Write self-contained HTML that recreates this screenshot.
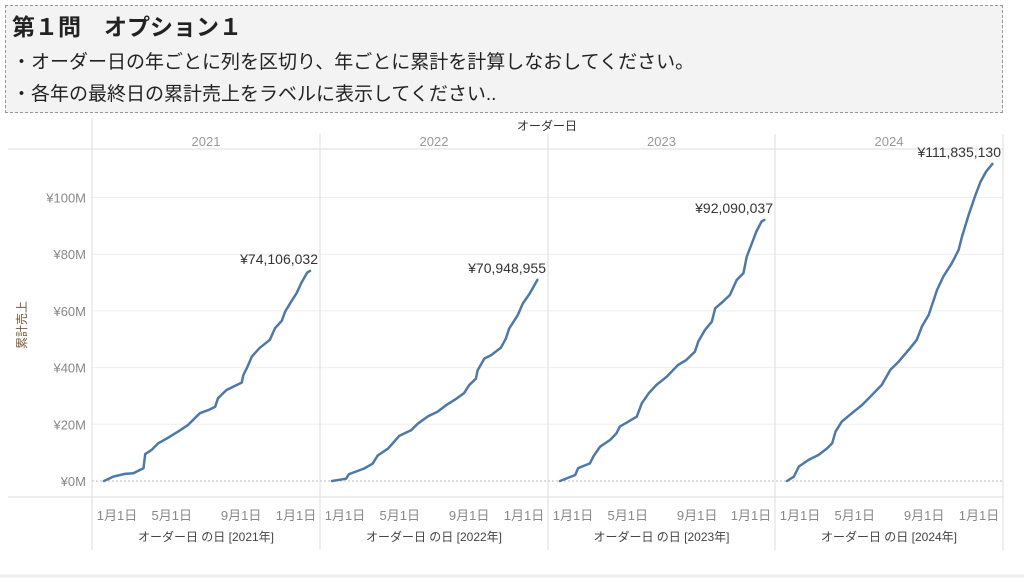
<!DOCTYPE html>
<html><head><meta charset="utf-8"><style>
html,body{margin:0;padding:0;background:#fff;width:1024px;height:580px;overflow:hidden}
body{font-family:"Liberation Sans","Noto Sans CJK JP",sans-serif}
#hdr{position:absolute;left:5px;top:5px;width:996px;height:106px;background:#f3f3f3;border:1px dashed #999}
#hdr div{position:absolute;left:6px;white-space:nowrap;color:#222}
</style></head><body>
<div id="hdr">
<div style="top:2px;font-size:23px;font-weight:bold;">第１問　オプション１</div>
<div style="top:41px;font-size:19px;">・オーダー日の年ごとに列を区切り、年ごとに累計を計算しなおしてください。</div>
<div style="top:73px;font-size:19px;">・各年の最終日の累計売上をラベルに表示してください..</div>
</div>
<svg id="chart" width="1024" height="580" style="position:absolute;left:0;top:0" font-family="Liberation Sans, Noto Sans CJK JP, sans-serif"></svg>
<script>
const years=["2021","2022","2023","2024"];
const labels2021=["¥74,106,032"];
const finalLabels=["¥74,106,032","¥70,948,955","¥92,090,037","¥111,835,130"];
const yTicks=[0,20,40,60,80,100];
const yTickLabels=["¥0M","¥20M","¥40M","¥60M","¥80M","¥100M"];
const xTickDays=[0,120,243,365];
const xTickLabels=["1月1日","5月1日","9月1日","1月1日"];
const days2021=[0,16,37,52,70,73,84,96,114,131,149,170,185,197,202,217,244,247,253,262,276,294,303,315,321,330,341,350,360,365];
const vals2021=[0,1.5,2.5,2.7,4.5,9.5,10.9,13.3,15.3,17.4,19.8,23.9,25,26.2,29.2,32.1,34.7,37.4,39.8,43.9,47,49.8,53.9,56.5,59.8,62.7,66.2,70,73.5,74.1];
const days2022=[0,25,30,57,72,81,99,108,119,140,152,170,187,202,220,234,243,255,258,270,282,299,308,314,329,338,350,364];
const vals2022=[0,0.8,2.4,4.4,6.1,9,11.4,13.4,15.9,17.9,20.2,22.8,24.4,26.7,29,31,33.8,36.1,39,43.2,44.4,47,50.2,53.8,58.5,62.6,66,70.95];
const days2023=[0,27,32,53,59,71,89,100,106,121,136,145,157,171,189,209,224,239,245,257,269,275,289,301,313,325,331,339,348,357,362];
const vals2023=[0,2.1,4.5,6.2,8.6,12.1,14.5,16.8,19.2,20.9,22.7,27.4,30.9,33.9,36.8,40.9,42.7,45.6,49.2,53.3,56.2,60.9,63.3,65.6,70.9,73.3,79.2,83.3,88,91.5,92.09];
const days2024=[0,12,21,38,56,71,80,86,97,115,133,151,168,183,198,218,230,239,251,266,277,292,304,310,322,334,343,353,364];
const vals2024=[0,1.5,5.1,7.4,9.2,11.5,13.3,17.4,20.9,23.9,26.8,30.4,33.9,39.2,42.1,46.8,49.8,54.5,58.6,67.4,72.1,76.8,81.5,86.2,93.9,100.9,105.6,109.2,111.84];
const allDays=[days2021,days2022,days2023,days2024];
const allVals=[vals2021,vals2022,vals2023,vals2024];

const svg=document.getElementById('chart');
const NS="http://www.w3.org/2000/svg";
const panelX=[92,320,548,775,1003];
const y0=481, pxPerM=2.835;
function yScale(v){return y0-v*pxPerM;}
function xScale(p,d){return panelX[p]+12+d/365*206;}
function mk(tag,attrs,text){const e=document.createElementNS(NS,tag);for(const k in attrs)e.setAttribute(k,attrs[k]);if(text!==undefined)e.textContent=text;svg.appendChild(e);return e;}

// gridlines
yTicks.forEach((t,i)=>{
 const g=mk('line',{x1:92,x2:1003,y1:yScale(t),y2:yScale(t),stroke:i===0?'#bbb':'#eee','stroke-width':1,'stroke-dasharray':i===0?'2,2':'none'});
 
 
 const l=mk('text',{x:86,y:yScale(t)+5,'text-anchor':'end','font-size':13,fill:'#888'},yTickLabels[i]);
 
 
});
// frame lines
let e;
e=mk('line',{x1:8,x2:1003,y1:149,y2:149,stroke:'#ddd'});


e=mk('line',{x1:8,x2:1003,y1:497,y2:497,stroke:'#ddd'});


e=mk('line',{x1:92,x2:92,y1:118,y2:550,stroke:'#ddd'});


for(let p=1;p<5;p++){
 e=mk('line',{x1:panelX[p],x2:panelX[p],y1:134,y2:550,stroke:'#ddd'});
 
 
}
e=mk('line',{x1:0,x2:1024,y1:576,y2:576,stroke:'#eee','stroke-width':3});


e=mk('text',{x:547,y:130,'text-anchor':'middle','font-size':12,fill:'#333'},'オーダー日');


e=mk('text',{x:0,y:0,'text-anchor':'middle','font-size':12,fill:'#7a5a3a',transform:'translate(26,325) rotate(-90)'},'累計売上');



years.forEach((yr,p)=>{
 const cx=(panelX[p]+panelX[p+1])/2;
 let t=mk('text',{x:cx,y:146,'text-anchor':'middle','font-size':13,fill:'#999'},yr);
 
 
 xTickDays.forEach((d,i)=>{
  let x=xScale(p,d);
  x=Math.max(panelX[p]+25,Math.min(panelX[p+1]-24,x));
  const l=mk('text',{x:x,y:520,'text-anchor':'middle','font-size':13,fill:'#888'},xTickLabels[i]);
  
  
 });
 t=mk('text',{x:cx,y:541,'text-anchor':'middle','font-size':12,fill:'#444'},'オーダー日 の日 ['+yr+'年]');
 
 
 const d=allDays[p], v=allVals[p];
 const pts=d.map((dd,i)=>xScale(p,dd).toFixed(1)+','+yScale(v[i]).toFixed(1)).join(' ');
 const line=mk('polyline',{points:pts,fill:'none',stroke:'#4e79a7','stroke-width':2.5,'stroke-linejoin':'round','stroke-linecap':'round'});
 
 
 const last=v[v.length-1];
 const lab=mk('text',{x:panelX[p+1]-2,y:yScale(last)-7,'text-anchor':'end','font-size':14,fill:'#333'},finalLabels[p]);
 
 
});
</script>
</body></html>
